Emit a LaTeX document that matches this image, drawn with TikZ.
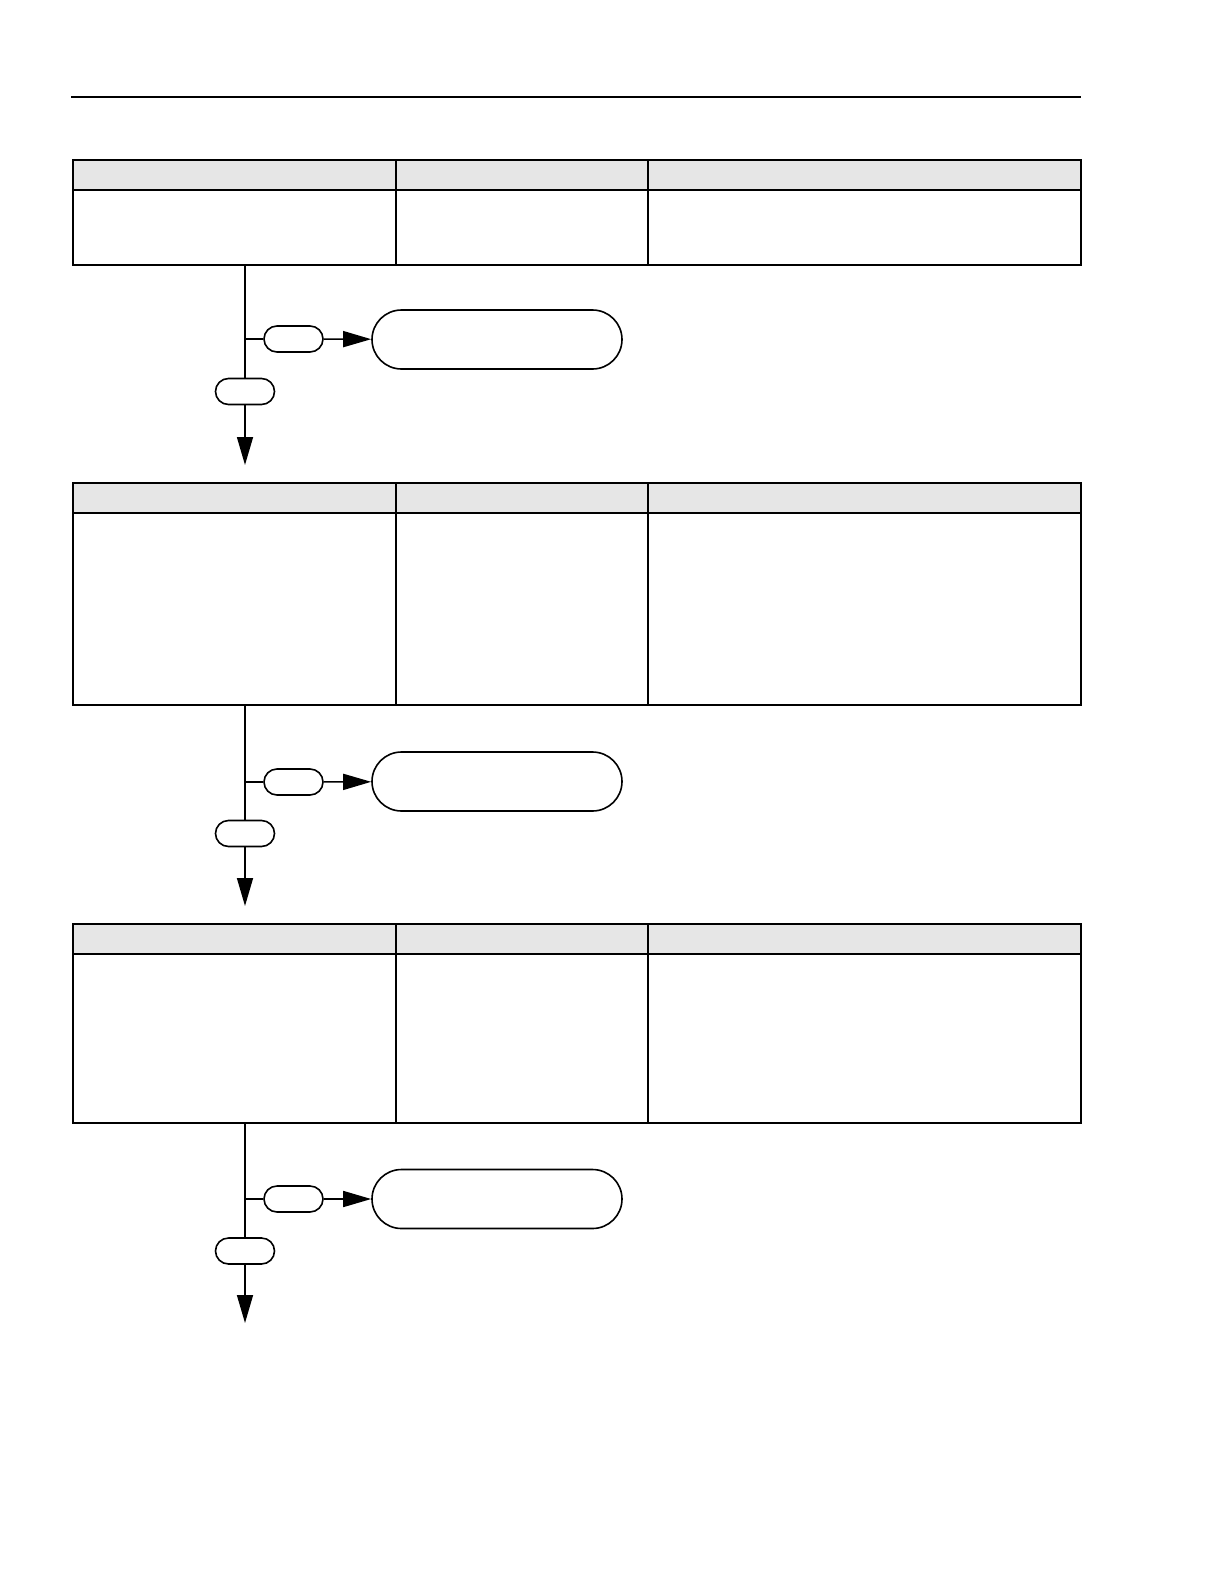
\documentclass[tikz,border=0pt]{standalone}
\usepackage{tikz}
\usetikzlibrary{shapes.misc, arrows.meta, positioning}
\definecolor{hdrgray}{HTML}{E6E6E6}
\tikzset{
  cell/.style={rectangle, draw, line width=0.75pt, inner sep=0pt, outer sep=0pt},
  hdr/.style={cell, fill=hdrgray, minimum height=15pt},
  pill/.style={rounded rectangle, draw, line width=0.8pt, inner sep=0pt},
  big/.style={pill, minimum width=125pt, minimum height=29.5pt},
  small/.style={pill, minimum width=29.5pt, minimum height=13pt},
  flow/.style={line width=0.8pt},
  arr/.style={flow, -{Triangle[length=14pt, width=8pt]}},
}
\begin{document}
\begin{tikzpicture}[x=0.5pt, y=-0.5pt]

  \useasboundingbox (0,0) rectangle (1224,1584);

  % page rule
  \coordinate (ruleL) at (71,97);
  \coordinate (ruleR) at (1081,97);
  \draw[line width=1pt] (ruleL) -- (ruleR);

  % first table
  \node[hdr, minimum width=161.5pt, anchor=north west] (h1a) at (73,160) {};
  \node[hdr, minimum width=126pt, right=0pt of h1a] (h1b) {};
  \node[hdr, minimum width=216.5pt, right=0pt of h1b] (h1c) {};
  \node[cell, minimum width=161.5pt, minimum height=37.5pt, below=0pt of h1a] (b1a) {};
  \node[cell, minimum width=126pt, minimum height=37.5pt, below=0pt of h1b] (b1b) {};
  \node[cell, minimum width=216.5pt, minimum height=37.5pt, below=0pt of h1c] (b1c) {};

  \node[small] (lo1) at (245,391.5) {};
  \node[small] (sm1) at (293.5,339) {};
  \node[big] (big1) at (497,339.5) {};
  \coordinate (j1) at (245,339);
  \coordinate (end1) at (245,465);
  \draw[flow] (b1a.south -| lo1) -- (lo1);
  \draw[flow] (j1) -- (sm1);
  \draw[arr] (sm1) -- (big1);
  \draw[arr] (lo1) -- (end1);

  % second table
  \node[hdr, minimum width=161.5pt, anchor=north west] (h2a) at (73,483) {};
  \node[hdr, minimum width=126pt, right=0pt of h2a] (h2b) {};
  \node[hdr, minimum width=216.5pt, right=0pt of h2b] (h2c) {};
  \node[cell, minimum width=161.5pt, minimum height=96pt, below=0pt of h2a] (b2a) {};
  \node[cell, minimum width=126pt, minimum height=96pt, below=0pt of h2b] (b2b) {};
  \node[cell, minimum width=216.5pt, minimum height=96pt, below=0pt of h2c] (b2c) {};

  \node[small] (lo2) at (245,833.5) {};
  \node[small] (sm2) at (293.5,782) {};
  \node[big] (big2) at (497,781.5) {};
  \coordinate (j2) at (245,782);
  \coordinate (end2) at (245,906);
  \draw[flow] (b2a.south -| lo2) -- (lo2);
  \draw[flow] (j2) -- (sm2);
  \draw[arr] (sm2) -- (big2);
  \draw[arr] (lo2) -- (end2);

  % third table
  \node[hdr, minimum width=161.5pt, anchor=north west] (h3a) at (73,924) {};
  \node[hdr, minimum width=126pt, right=0pt of h3a] (h3b) {};
  \node[hdr, minimum width=216.5pt, right=0pt of h3b] (h3c) {};
  \node[cell, minimum width=161.5pt, minimum height=84.5pt, below=0pt of h3a] (b3a) {};
  \node[cell, minimum width=126pt, minimum height=84.5pt, below=0pt of h3b] (b3b) {};
  \node[cell, minimum width=216.5pt, minimum height=84.5pt, below=0pt of h3c] (b3c) {};

  \node[small] (lo3) at (245,1251) {};
  \node[small] (sm3) at (293.5,1199) {};
  \node[big] (big3) at (497,1199) {};
  \coordinate (j3) at (245,1199);
  \coordinate (end3) at (245,1323);
  \draw[flow] (b3a.south -| lo3) -- (lo3);
  \draw[flow] (j3) -- (sm3);
  \draw[arr] (sm3) -- (big3);
  \draw[arr] (lo3) -- (end3);

\end{tikzpicture}
\end{document}
